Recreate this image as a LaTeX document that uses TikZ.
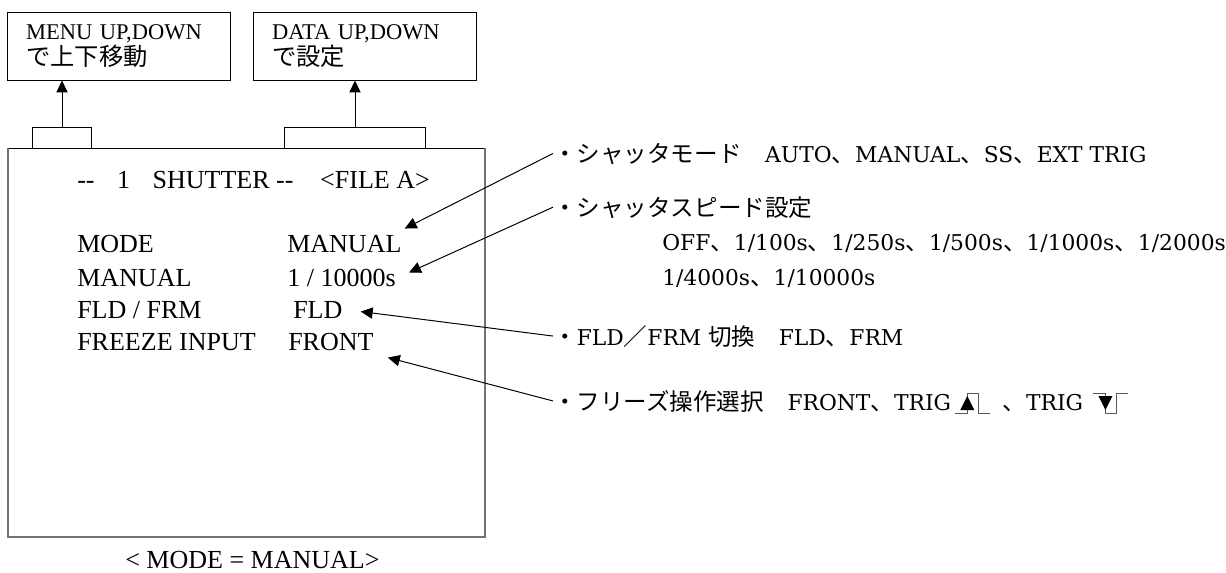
\documentclass[tikz,border=0pt]{standalone}
\usepackage{fontspec}
\setmainfont{Liberation Serif}
\newfontfamily\jpfont[Scale=1.08]{Noto Sans CJK JP}
\newfontfamily\notefont{DejaVu Serif}
\usetikzlibrary{arrows.meta, positioning}

\newcommand{\jp}[1]{{\jpfont #1}}

\tikzset{
  scr/.style={anchor=base west, inner sep=0pt, font=\fontsize{18.5}{22}\selectfont},
  note/.style={anchor=base west, inner sep=0pt, font=\notefont\fontsize{15.5}{20}\selectfont},
  keybox/.style={draw, line width=0.7pt, align=left, text width=132pt, inner xsep=13pt,
    minimum height=47.7pt, font=\fontsize{16}{18.5}\selectfont},
  arr/.style={-{Triangle[width=8pt,length=8.5pt]}, line width=0.7pt},
  pulse/.style={line width=0.7pt, black!65},
}

\begin{document}
\begin{tikzpicture}[x=0.025cm, y=-0.025cm]
\useasboundingbox (0,0) rectangle (1226,573);

% key boxes
\node[keybox] (menu) at (119,46.5) {MENU UP,DOWN\\\jp{で上下移動}};
\node[keybox] (data) at (365,46.5) {DATA UP,DOWN\\\jp{で設定}};

% brackets over the screen
\draw[line width=0.7pt] (32,148) -- (32,127) -- (91,127) -- (91,148);
\draw[line width=0.7pt] (284,148) -- (284,127) -- (425,127) -- (425,148);
\coordinate (bk1) at (62,127);
\coordinate (bk2) at (355,127);
\draw[arr] (bk1) -- (bk1 |- menu.south);
\draw[arr] (bk2) -- (bk2 |- data.south);

% screen frame
\draw[line width=0.7pt] (8,148) -- (485,148);
\draw[black!55, line width=1.6pt] (8,148) -- (8,537) -- (485,537) -- (485,148);

% screen text
\node[scr] (hdr) at (77,188) {-{}-\hspace{16pt}1\hspace{16pt}SHUTTER -{}-\hspace{19pt}<FILE A>};
\node[scr] (lmode) at (77,252) {MODE};
\node[scr] (vmode) at (287,252) {MANUAL};
\node[scr] (lman) at (77,286) {MANUAL};
\node[scr] (vman) at (287,286) {1 / 10000s};
\node[scr] (lfld) at (77,318) {FLD / FRM};
\node[scr] (vfld) at (293,318) {FLD};
\node[scr] (lfrz) at (77,350) {FREEZE INPUT};
\node[scr] (vfrz) at (288,350) {FRONT};
\node[scr] (cap) at (125,568) {< MODE = MANUAL>};

% notes on the right
\node[note] (nmode) at (553,162) {\jp{・シャッタモード　}AUTO\jp{、}MANUAL\jp{、}SS\jp{、}EXT TRIG};
\node[note] (nspd) at (553,216) {\jp{・シャッタスピード設定}};
\node[note] (nspd1) at (662,250) {OFF\jp{、}1/100s\jp{、}1/250s\jp{、}1/500s\jp{、}1/1000s\jp{、}1/2000s};
\node[note] (nspd2) at (662,285) {1/4000s\jp{、}1/10000s};
\node[note] (nfld) at (553,345) {\jp{・}FLD\jp{／}FRM \jp{切換　}FLD\jp{、}FRM};
\node[note] (nfrz) at (553,410) {\jp{・フリーズ操作選択　}FRONT\jp{、}TRIG};

% trigger edges
\path (nfrz.base east) ++(4,3) coordinate (rise);
\draw[pulse] (rise) -- ++(12,0) -- ++(0,-20) -- ++(11,0) -- ++(0,20) -- ++(12,0);
\fill (rise) ++(5,-3) -- ++(14,0) -- ++(-7,-14) -- cycle;
\path (rise) ++(47,-3) node[note] (nfrz2) {\jp{、}TRIG};
\path (nfrz2.base east) ++(10,3) coordinate (fall);
\draw[pulse] (fall) ++(0,-20) -- ++(12,0) -- ++(0,20) -- ++(11,0) -- ++(0,-20) -- ++(12,0);
\fill (fall) ++(5,-17) -- ++(14,0) -- ++(-7,14) -- cycle;

% pointers
\draw[arr] (nmode.west) -- ([shift={(3,-6)}]vmode.north east);
\draw[arr] (nspd.west) -- ([shift={(13,-5)}]vman.east);
\draw[arr] (nfld.west) -- ([shift={(18,2)}]vfld.east);
\draw[arr] (nfrz.west) -- ([shift={(14,7)}]vfrz.south east);
\end{tikzpicture}
\end{document}
